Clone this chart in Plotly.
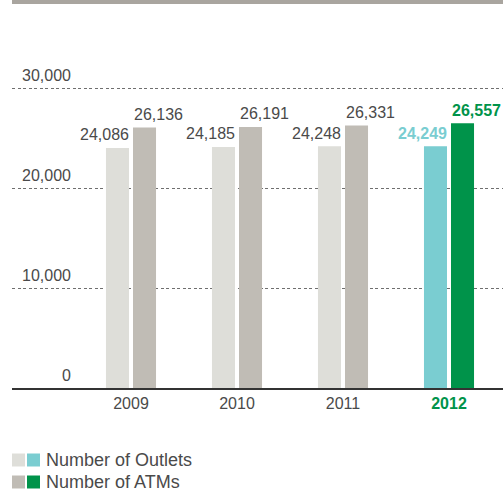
import plotly.graph_objects as go

years = ["2009", "2010", "2011", "2012"]
outlets = [24086, 24185, 24248, 24249]
atms = [26136, 26191, 26331, 26557]
y_ticks = [0, 10000, 20000, 30000]
y_tick_labels = ["0", "10,000", "20,000", "30,000"]
legend_names = ["Number of Outlets", "Number of ATMs"]

W, H = 503, 490
L, R, T, B = 12, 0, 84, 102
Y_MAX = 30500

GRAY_L = "#deded9"
GRAY_D = "#c0bcb5"
TEAL = "#7acdd1"
GREEN = "#00934a"
TXT = "#4a4a4a"
FONT = "Liberation Sans, Arial, sans-serif"

hl = len(years) - 1
out_colors = [TEAL if i == hl else GRAY_L for i in range(len(years))]
atm_colors = [GREEN if i == hl else GRAY_D for i in range(len(years))]

fig = go.Figure()
fig.add_trace(go.Bar(x=years, y=outlets, name=legend_names[0], marker=dict(color=out_colors, line=dict(width=0))))
fig.add_trace(go.Bar(x=years, y=atms, name=legend_names[1], marker=dict(color=atm_colors, line=dict(width=0))))

pw = W - L - R
ph = H - T - B
def py(pix):
    return (H - B - pix) / ph
def px(pix):
    return (pix - L) / pw

annotations = []
for i, (yr, o, a) in enumerate(zip(years, outlets, atms)):
    is_hl = i == hl
    annotations.append(dict(
        x=i, y=o, xref="x", yref="y", text=(f"<b>{o:,}</b>" if is_hl else f"{o:,}"),
        xanchor="right", yanchor="middle", xshift=0, yshift=13, showarrow=False,
        font=dict(family=FONT, size=16, color=TEAL if is_hl else TXT)))
    annotations.append(dict(
        x=i, y=a, xref="x", yref="y", text=(f"<b>{a:,}</b>" if is_hl else f"{a:,}"),
        xanchor="left", yanchor="middle", xshift=1, yshift=13, showarrow=False,
        font=dict(family=FONT, size=16, color=GREEN if is_hl else TXT)))

for v, lab in zip(y_ticks, y_tick_labels):
    annotations.append(dict(
        x=px(73), y=v, xref="paper", yref="y", text=lab, showarrow=False,
        xanchor="right", yanchor="middle", yshift=13, font=dict(family=FONT, size=16, color=TXT)))

shapes = []
leg_rows = [(legend_names[0], GRAY_L, TEAL, 460), (legend_names[1], GRAY_D, GREEN, 482)]
for name, c1, c2, yc in leg_rows:
    shapes.append(dict(type="rect", xref="paper", yref="paper", x0=px(12), x1=px(25),
                       y0=py(yc + 6.5), y1=py(yc - 6.5), fillcolor=c1, line=dict(width=0)))
    shapes.append(dict(type="rect", xref="paper", yref="paper", x0=px(27), x1=px(40),
                       y0=py(yc + 6.5), y1=py(yc - 6.5), fillcolor=c2, line=dict(width=0)))
    annotations.append(dict(x=px(44), y=py(yc), xref="paper", yref="paper", text=name,
                            showarrow=False, xanchor="left", yanchor="middle",
                            font=dict(family=FONT, size=18, color=TXT)))

# top band
shapes.append(dict(type="rect", xref="paper", yref="paper", x0=px(12), x1=px(503),
                   y0=py(4), y1=py(-2), fillcolor="#a9a59f", line=dict(width=0)))

tick_text = [f"<span style='color:{GREEN}'><b>{y}</b></span>" if i == hl else y
             for i, y in enumerate(years)]

fig.update_layout(
    width=W, height=H,
    margin=dict(l=L, r=R, t=T, b=B, pad=0),
    paper_bgcolor="white", plot_bgcolor="white",
    barmode="group", bargap=0.49, bargroupgap=0.148,
    showlegend=False,
    font=dict(family=FONT, color=TXT),
    xaxis=dict(type="category", range=[-1.1226, 3.5094], showgrid=False, zeroline=False,
               showline=True, linecolor="#333333", linewidth=2, ticks="",
               tickmode="array", tickvals=years, ticktext=tick_text,
               tickfont=dict(family=FONT, size=16, color=TXT)),
    yaxis=dict(range=[0, Y_MAX], showticklabels=False, showgrid=True, gridcolor="#6f6f6f",
               griddash="3px,2.5px", gridwidth=1, zeroline=False, tickvals=y_ticks, ticks=""),
    annotations=annotations,
    shapes=shapes,
)

fig.write_html("out.html", config={"displayModeBar": False},
               post_script="document.body.style.margin='0';document.body.style.overflow='hidden';")
